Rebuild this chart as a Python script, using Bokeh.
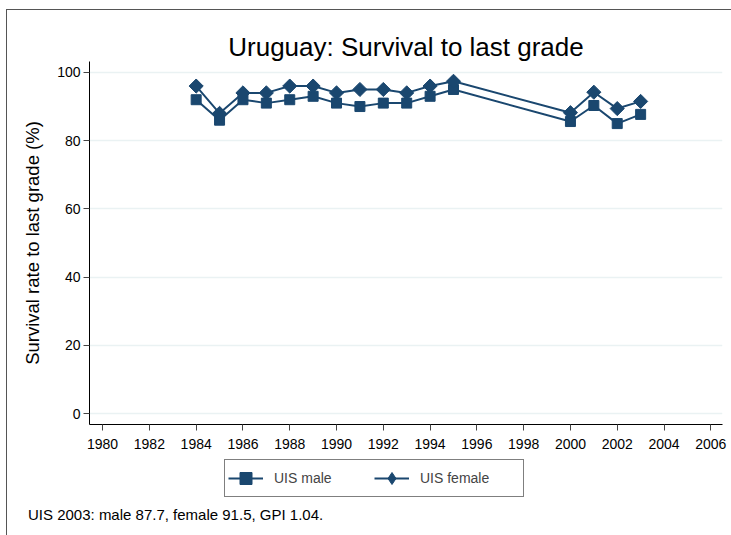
import math
from bokeh.plotting import figure
from bokeh.layouts import column
from bokeh.models import FixedTicker, Legend, LegendItem, Div
from bokeh.embed import file_html
from bokeh.resources import INLINE

years = [1984, 1985, 1986, 1987, 1988, 1989, 1990, 1991, 1992, 1993, 1994, 1995, 2000, 2001, 2002, 2003]
male = [92, 86, 92, 91, 92, 93, 91, 90, 91, 91, 93, 95, 85.6, 90.3, 85.0, 87.7]
female = [96, 88, 94, 94, 96, 96, 94, 95, 95, 94, 96, 97.4, 88.2, 94.2, 89.4, 91.5]
x_ticks = list(range(1980, 2007, 2))
y_ticks = [0, 20, 40, 60, 80, 100]
title_text = "Uruguay: Survival to last grade"
y_label = "Survival rate to last grade (%)"
note = "UIS 2003: male 87.7, female 91.5, GPI 1.04."
series_names = ["UIS male", "UIS female"]

NAVY = "#1a476f"
FONT = "Liberation Sans"
DIAMOND_ANGLE = math.pi / 4

p = figure(width=724, height=445, x_range=(1979.44, 2006.5), y_range=(-3.2, 103.2),
           output_backend="svg", toolbar_location=None,
           min_border_left=82, min_border_right=9, min_border_top=51, min_border_bottom=31,
           background_fill_color="white", border_fill_color="white")
p.outline_line_color = None

p.title.text = title_text
p.title.text_font = FONT
p.title.text_font_size = "26px"
p.title.text_font_style = "normal"
p.title.align = "center"
p.title.standoff = 0
p.title.text_color = "black"

# axes
p.xaxis.ticker = FixedTicker(ticks=x_ticks)
p.yaxis.ticker = FixedTicker(ticks=y_ticks)
for ax in (p.xaxis[0], p.yaxis[0]):
    ax.major_label_text_font = FONT
    ax.major_label_text_font_size = "14px"
    ax.major_label_text_color = "black"
    ax.major_tick_out = 6
    ax.major_tick_in = 0
    ax.minor_tick_out = 0
    ax.minor_tick_in = 0
    ax.axis_line_color = "black"
    ax.major_tick_line_color = "#444444"
p.xaxis.major_label_standoff = 8
p.yaxis.major_label_standoff = 3
p.yaxis.axis_label = y_label
p.yaxis.axis_label_text_font = FONT
p.yaxis.axis_label_text_font_size = "18.5px"
p.yaxis.axis_label_text_font_style = "normal"
p.yaxis.axis_label_text_color = "black"
p.yaxis.axis_label_standoff = 11

p.xgrid.grid_line_color = None
p.ygrid.grid_line_color = "#eaf2f3"
p.ygrid.grid_line_width = 1.5

# data
p.line(years, male, line_color=NAVY, line_width=2)
p.scatter(years, male, marker="square", size=10, fill_color=NAVY, line_color=NAVY)
p.line(years, female, line_color=NAVY, line_width=2)
p.scatter(years, female, marker="square", size=10, angle=DIAMOND_ANGLE,
          fill_color=NAVY, line_color=NAVY)

# legend strip (pixel-scaled ranges; series drawn off-range only to feed legend glyphs)
q = figure(width=724, height=47, x_range=(0, 633), y_range=(0, 47),
           output_backend="svg", toolbar_location=None,
           x_axis_type=None, y_axis_type=None, min_border=0,
           background_fill_color="white", border_fill_color="white")
q.outline_line_color = None
q.xgrid.grid_line_color = None
q.ygrid.grid_line_color = None
lm_l = q.line(years, male, line_color=NAVY, line_width=2)
lm_m = q.scatter(years, male, marker="square", size=10, fill_color=NAVY, line_color=NAVY)
lf_l = q.line(years, female, line_color=NAVY, line_width=2)
lf_m = q.scatter(years, female, marker="diamond", size=17,
                 fill_color=NAVY, line_color=NAVY)

legend = Legend(items=[LegendItem(label=series_names[0], renderers=[lm_l, lm_m]),
                       LegendItem(label=series_names[1], renderers=[lf_l, lf_m])],
                orientation="horizontal", location=(135, 5),
                border_line_color="black", border_line_width=1,
                label_text_font=FONT, label_text_font_size="14px",
                glyph_width=35, glyph_height=30, spacing=0, padding=3, margin=0,
                label_standoff=11, label_width=100, background_fill_alpha=1.0)
q.add_layout(legend, "center")

foot = Div(text=note, width=724, height=33,
           styles={"font-family": FONT, "font-size": "15px", "color": "black",
                   "padding-left": "21px", "padding-top": "4px", "line-height": "17px",
                   "box-sizing": "border-box", "margin": "0"})

layout = column(p, q, foot, spacing=0,
                styles={"margin-left": "6px", "margin-top": "9px",
                        "border-left": "1px solid #555555", "border-top": "1px solid #555555"})

open("out.html", "w").write(file_html(layout, INLINE))
